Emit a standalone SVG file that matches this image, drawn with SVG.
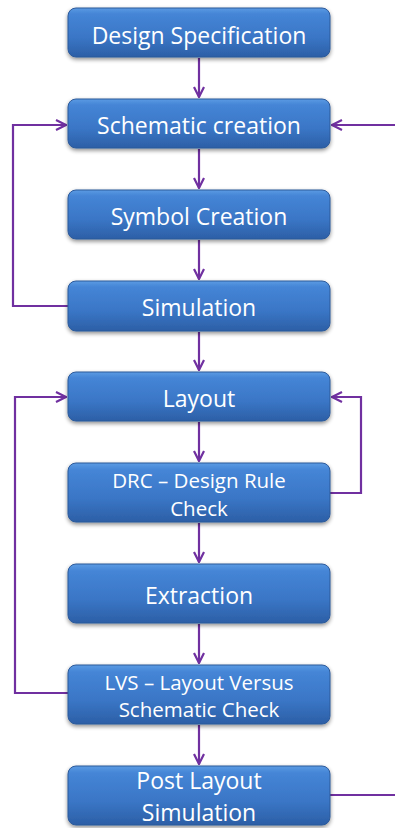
<svg xmlns="http://www.w3.org/2000/svg" width="395" height="828" viewBox="0 0 395 828">
  <defs>
    <linearGradient id="boxFill" x1="0" y1="0" x2="0" y2="1">
      <stop offset="0" stop-color="#5b9be3"/>
      <stop offset="0.12" stop-color="#4585d6"/>
      <stop offset="0.6" stop-color="#3a76c6"/>
      <stop offset="1" stop-color="#2c5fa6"/>
    </linearGradient>
    <filter id="shadow" x="-10%" y="-20%" width="120%" height="150%">
      <feGaussianBlur in="SourceAlpha" stdDeviation="2"/>
      <feOffset dx="0" dy="2" result="b"/>
      <feComponentTransfer><feFuncA type="linear" slope="0.45"/></feComponentTransfer>
      <feMerge><feMergeNode/><feMergeNode in="SourceGraphic"/></feMerge>
    </filter>
    <marker id="arrow" viewBox="0 0 12 12" refX="11" refY="6" markerWidth="12" markerHeight="12" markerUnits="userSpaceOnUse" orient="auto">
      <polyline points="1,1 11,6 1,11" fill="none" stroke="#7030a0" stroke-width="2.2" stroke-linejoin="miter"/>
    </marker>
  </defs>
  <style>
    .box { fill: url(#boxFill); stroke: #2d5a9a; stroke-width: 1; filter: url(#shadow); }
    .lbl { font-family: "Open Sans", "Noto Sans", "Liberation Sans", sans-serif; fill: #ffffff; text-anchor: middle; }
    .big { font-size: 23px; }
    .small { font-size: 20.5px; }
    .conn { fill: none; stroke: #7030a0; stroke-width: 2.2; }
  </style>

  <g id="connectors">
    <line class="conn" x1="199" y1="58" x2="199" y2="97" marker-end="url(#arrow)"/>
    <line class="conn" x1="199" y1="149" x2="199" y2="188" marker-end="url(#arrow)"/>
    <line class="conn" x1="199" y1="240" x2="199" y2="279" marker-end="url(#arrow)"/>
    <line class="conn" x1="199" y1="332" x2="199" y2="370" marker-end="url(#arrow)"/>
    <line class="conn" x1="199" y1="422" x2="199" y2="461" marker-end="url(#arrow)"/>
    <line class="conn" x1="199" y1="523" x2="199" y2="562" marker-end="url(#arrow)"/>
    <line class="conn" x1="199" y1="624" x2="199" y2="663" marker-end="url(#arrow)"/>
    <line class="conn" x1="199" y1="725" x2="199" y2="764" marker-end="url(#arrow)"/>
    <!-- Simulation back to Schematic creation -->
    <polyline class="conn" points="68,306 13,306 13,125 66,125" marker-end="url(#arrow)"/>
    <!-- external input into Schematic creation -->
    <line class="conn" x1="395" y1="125" x2="332" y2="125" marker-end="url(#arrow)"/>
    <!-- LVS back to Layout -->
    <polyline class="conn" points="68,693 15,693 15,397 66,397" marker-end="url(#arrow)"/>
    <!-- DRC back to Layout -->
    <polyline class="conn" points="330,493 361,493 361,397 332,397" marker-end="url(#arrow)"/>
    <!-- Post layout simulation output -->
    <line class="conn" x1="330" y1="795" x2="395" y2="795"/>
  </g>

  <g id="design-specification">
    <rect class="box" x="68" y="8" width="262" height="49" rx="8"/>
    <text class="lbl big" x="199" y="44">Design Specification</text>
  </g>
  <g id="schematic-creation">
    <rect class="box" x="68" y="99" width="262" height="49" rx="8"/>
    <text class="lbl big" x="199" y="134">Schematic creation</text>
  </g>
  <g id="symbol-creation">
    <rect class="box" x="68" y="190" width="262" height="49" rx="8"/>
    <text class="lbl big" x="199" y="225">Symbol Creation</text>
  </g>
  <g id="simulation">
    <rect class="box" x="68" y="281" width="262" height="50" rx="8"/>
    <text class="lbl big" x="199" y="316">Simulation</text>
  </g>
  <g id="layout">
    <rect class="box" x="68" y="372" width="262" height="49" rx="8"/>
    <text class="lbl big" x="199" y="407">Layout</text>
  </g>
  <g id="drc">
    <rect class="box" x="68" y="463" width="262" height="59" rx="8"/>
    <text class="lbl small" x="199" y="488">DRC – Design Rule</text>
    <text class="lbl small" x="199" y="516">Check</text>
  </g>
  <g id="extraction">
    <rect class="box" x="68" y="564" width="262" height="59" rx="8"/>
    <text class="lbl big" x="199" y="604">Extraction</text>
  </g>
  <g id="lvs">
    <rect class="box" x="68" y="665" width="262" height="59" rx="8"/>
    <text class="lbl small" x="199" y="690">LVS – Layout Versus</text>
    <text class="lbl small" x="199" y="717">Schematic Check</text>
  </g>
  <g id="post-layout-simulation">
    <rect class="box" x="68" y="766" width="262" height="59" rx="8"/>
    <text class="lbl big" x="199" y="789">Post Layout</text>
    <text class="lbl big" x="199" y="821">Simulation</text>
  </g>
</svg>
